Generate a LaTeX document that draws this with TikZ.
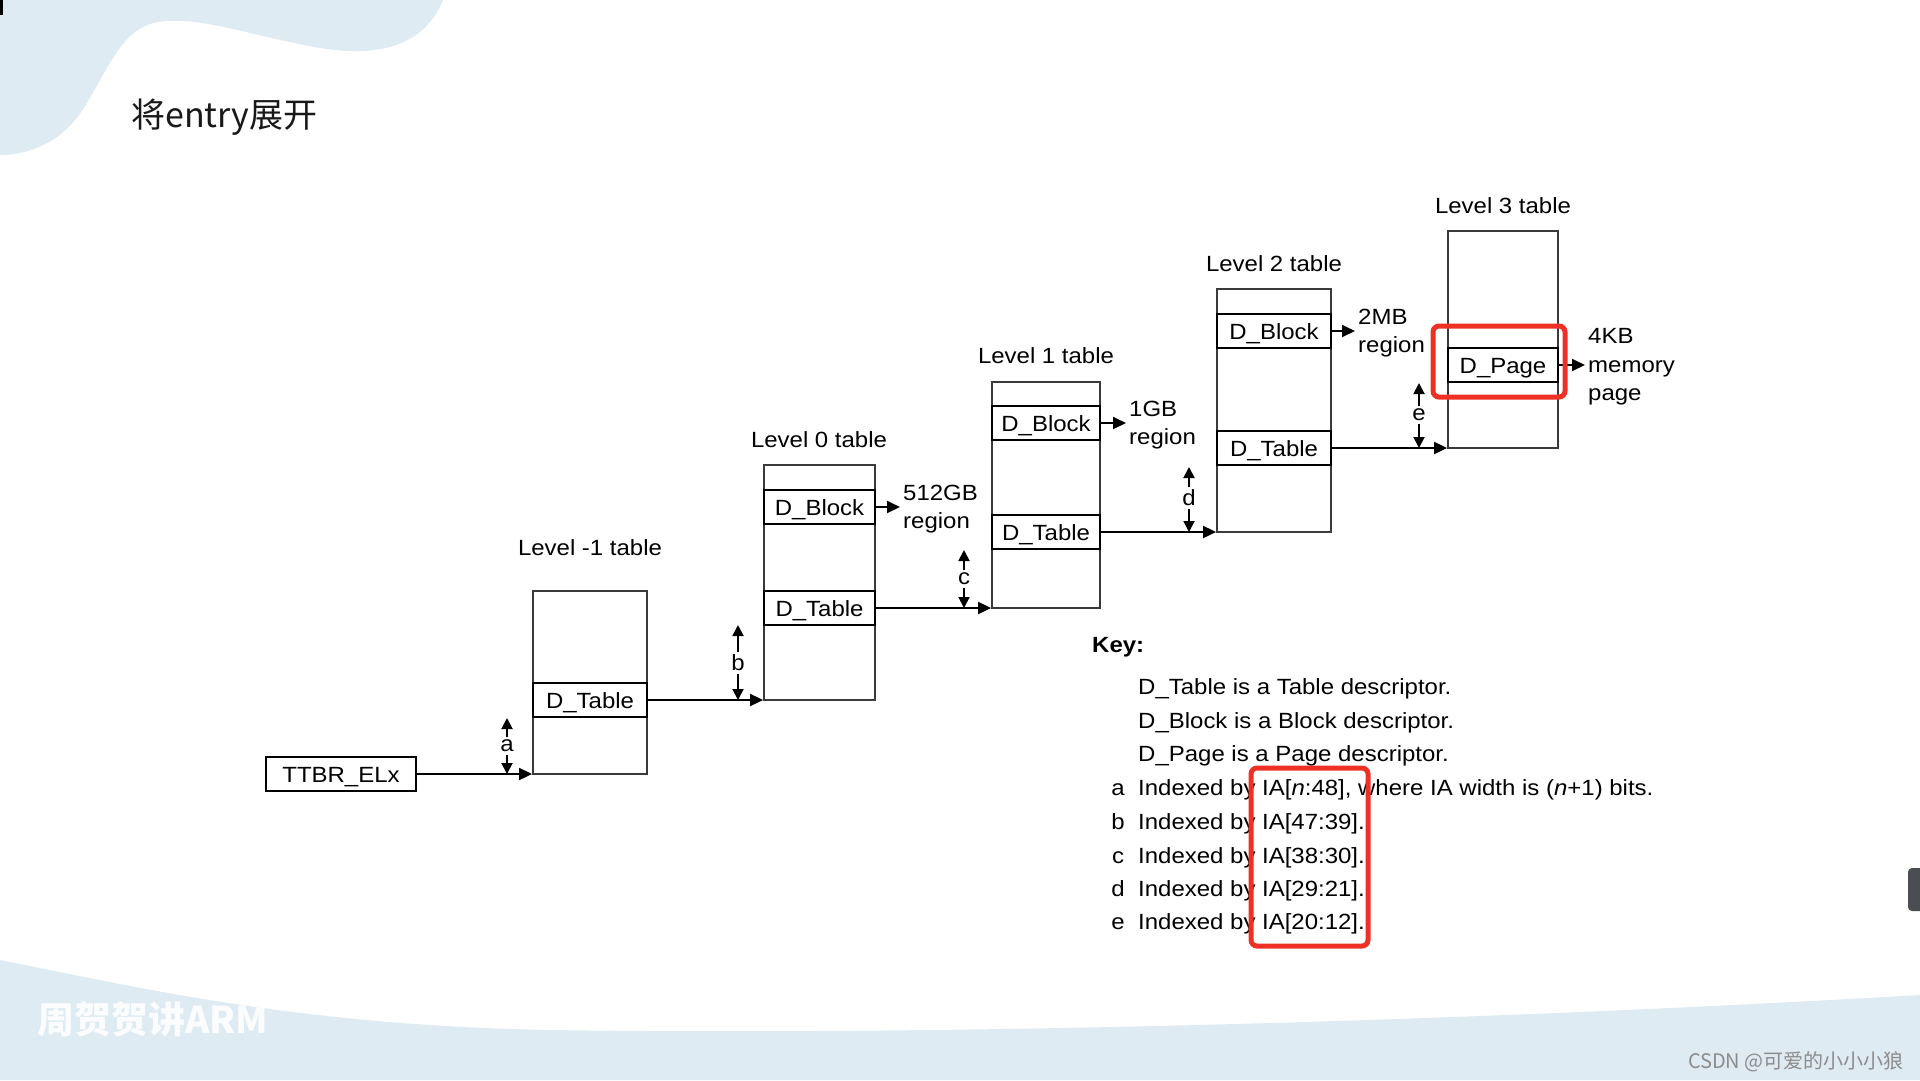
\documentclass[tikz,border=0pt]{standalone}
\usepackage{fontspec}
\setmainfont{Liberation Sans}[FakeStretch=1.09]
\newfontfamily\cjkfont{Noto Sans CJK SC}
\usetikzlibrary{arrows.meta}

\definecolor{wave}{HTML}{DEEBF2}
\definecolor{hilite}{HTML}{EE3124}
\definecolor{frame}{HTML}{3A3A3A}
\definecolor{tabgrey}{HTML}{4A4D52}

\tikzset{
	txt/.style={inner sep=0pt,font=\fontsize{22}{28}\selectfont},
	lvltable/.style={draw=frame,line width=1.8pt,inner sep=0pt,fill=white},
	entrybox/.style={draw=black,line width=2.4pt,inner sep=0pt,minimum height=34pt,text height=16pt,text depth=0pt,font=\fontsize{22}{28}\selectfont},
	sizelbl/.style={txt,align=left,anchor=west,inner xsep=3pt},
	ptr/.style={line width=1.8pt,-{Triangle[length=13pt,width=12pt]}},
	idx/.style={line width=1.9pt,shorten <=2.5pt,-{Triangle[length=11pt,width=11pt]}},
	redbox/.style={draw=hilite,line width=5pt,rounded corners=6pt},
}

\begin{document}
\begin{tikzpicture}[x=1pt,y=-1pt]
				\useasboundingbox (0,0) rectangle (1920,1080);
			
				% background waves
				\begin{scope}
					\fill[wave] (0,0) -- (443,0) .. controls (425,45) and (380,58) .. (320,48)
						.. controls (250,36) and (190,12) .. (150,24)
						.. controls (115,35) and (100,90) .. (75,120)
						.. controls (55,145) and (25,155) .. (0,155) -- cycle;
					\fill[wave] (0,960) .. controls (150,990) and (300,1025) .. (550,1030)
						.. controls (900,1035) and (1400,1025) .. (1920,995)
						-- (1920,1080) -- (0,1080) -- cycle;
					\fill[black] (0,0) rectangle (3,15);
					\fill[tabgrey,rounded corners=4pt] (1908,868) rectangle (1932,911);
				\end{scope}
			
				\node[anchor=west,inner sep=0pt,font=\cjkfont\fontsize{34}{40}\selectfont,text=black!90] (title) at (131,117) {将entry展开};
			
				% tables
				\begin{scope}[every node/.style={lvltable}]
					\node[minimum width=114pt,minimum height=183pt] (lvm1) at (590,682.5) {};
					\node[minimum width=111pt,minimum height=235pt] (lv0) at (819.5,582.5) {};
					\node[minimum width=108pt,minimum height=226pt] (lv1) at (1046,495) {};
					\node[minimum width=114pt,minimum height=243pt] (lv2) at (1274,410.5) {};
					\node[minimum width=110pt,minimum height=217pt] (lv3) at (1503,339.5) {};
				\end{scope}
			
				\begin{scope}[every node/.style={entrybox}]
					\node[minimum width=150pt,fill=white] (ttbr) at (341,774) {TTBR\_ELx};
					\node[minimum width=114pt] (lvm1t) at (590,700) {D\_Table};
					\node[minimum width=111pt] (lv0b) at (819.5,507) {D\_Block};
					\node[minimum width=111pt] (lv0t) at (819.5,608) {D\_Table};
					\node[minimum width=108pt] (lv1b) at (1046,423) {D\_Block};
					\node[minimum width=108pt] (lv1t) at (1046,532) {D\_Table};
					\node[minimum width=114pt] (lv2b) at (1274,331) {D\_Block};
					\node[minimum width=114pt] (lv2t) at (1274,448) {D\_Table};
					\node[minimum width=110pt] (lv3p) at (1503,365) {D\_Page};
				\end{scope}
			
				\begin{scope}[every node/.style={txt}]
					\node (lblm1) at (590,548) {Level -1 table};
					\node (lbl0) at (819,440) {Level 0 table};
					\node (lbl1) at (1046,356) {Level 1 table};
					\node (lbl2) at (1274,264) {Level 2 table};
					\node (lbl3) at (1503,206) {Level 3 table};
				\end{scope}
			
				\node[sizelbl] (g512) at (900,509) {512GB\\region};
				\node[sizelbl] (g1) at (1126,425) {1GB\\region};
				\node[sizelbl] (m2) at (1355,333) {2MB\\region};
				\node[sizelbl,font=\fontsize{22}{28.5}\selectfont] (k4) at (1585,367) {4KB\\memory\\page};
			
				% pointers between levels
				\draw[ptr] (ttbr.east) -- (ttbr.east -| lvm1.west);
				\draw[ptr] (lvm1t.east) -- (lvm1t.east -| lv0.west);
				\draw[ptr] (lv0t.east) -- (lv0t.east -| lv1.west);
				\draw[ptr] (lv1t.east) -- (lv1t.east -| lv2.west);
				\draw[ptr] (lv2t.east) -- (lv2t.east -| lv3.west);
			
				\draw[ptr] (lv0b.east) -- (lv0b.east -| g512.west);
				\draw[ptr] (lv1b.east) -- (lv1b.east -| g1.west);
				\draw[ptr] (lv2b.east) -- (lv2b.east -| m2.west);
				\draw[ptr] (lv3p.east) -- (lv3p.east -| k4.west);
			
				% index fields
				\begin{scope}[every node/.style={txt}]
					\node (ia) at (507,746) {a};
					\node (ib) at (738,663) {b};
					\node (ic) at (964,579) {c};
					\node (id) at (1189,498) {d};
					\node (ie) at (1419,415) {e};
				\end{scope}
				\coordinate (ia-up) at (507,718);
				\coordinate (ib-up) at (738,625);
				\coordinate (ic-up) at (964,550);
				\coordinate (id-up) at (1189,467);
				\coordinate (ie-up) at (1419,383);
				\draw[idx] (ia) -- (ia-up);
				\draw[idx] (ia) -- (ttbr.east -| ia);
				\draw[idx] (ib) -- (ib-up);
				\draw[idx] (ib) -- (lvm1t.east -| ib);
				\draw[idx] (ic) -- (ic-up);
				\draw[idx] (ic) -- (lv0t.east -| ic);
				\draw[idx] (id) -- (id-up);
				\draw[idx] (id) -- (lv1t.east -| id);
				\draw[idx] (ie) -- (ie-up);
				\draw[idx] (ie) -- (lv2t.east -| ie);
			
				% key
				\begin{scope}[every node/.style={txt,anchor=base west}]
					\node[font=\bfseries\fontsize{22}{28}\selectfont] (key) at (1092,652) {Key:};
					\node (kt) at (1138,694) {D\_Table is a Table descriptor.};
					\node (kb) at (1138,728) {D\_Block is a Block descriptor.};
					\node (kp) at (1138,761) {D\_Page is a Page descriptor.};
					\node (ka) at (1138,795) {Indexed by IA[\textit{n}:48], where IA width is (\textit{n}+1) bits.};
					\node (kbb) at (1138,829) {Indexed by IA[47:39].};
					\node (kc) at (1138,863) {Indexed by IA[38:30].};
					\node (kd) at (1138,896) {Indexed by IA[29:21].};
					\node (ke) at (1138,929) {Indexed by IA[20:12].};
				\end{scope}
				\begin{scope}[every node/.style={txt,anchor=base}]
					\node (la) at (1118,795) {a};
					\node (lb) at (1118,829) {b};
					\node (lc) at (1118,863) {c};
					\node (ld) at (1118,896) {d};
					\node (le) at (1118,929) {e};
				\end{scope}
			
				\draw[redbox] (1433,326) rectangle (1565,397);
				\draw[redbox] (1251,768) rectangle (1368,946);
			
				% watermarks
				\node[anchor=west,inner sep=0pt,font=\cjkfont\bfseries\fontsize{37}{42}\selectfont,text=white,opacity=0.85] (wm) at (37,1019) {周贺贺讲ARM};
				\node[anchor=east,inner sep=0pt,font=\cjkfont\fontsize{20}{24}\selectfont,text=black!45] (csdn) at (1904,1062) {CSDN @可爱的小小小狼};
\end{tikzpicture}
\end{document}
